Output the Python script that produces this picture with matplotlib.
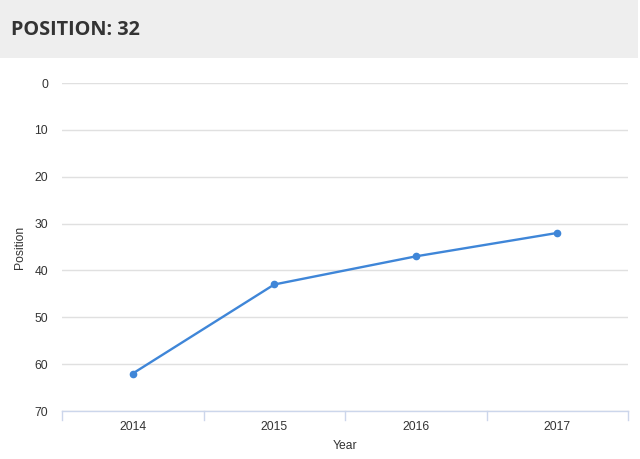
import matplotlib
matplotlib.use("Agg")
import matplotlib.pyplot as plt
from matplotlib.patches import Rectangle

years = ["2014", "2015", "2016", "2017"]
positions = [62, 43, 37, 32]
y_ticks = [0, 10, 20, 30, 40, 50, 60, 70]
title = "POSITION: 32"

W, H = 640, 459
fig = plt.figure(figsize=(W / 100, H / 100), dpi=100)
fig.patch.set_facecolor("white")
plt.rcParams["font.family"] = ["Liberation Sans", "DejaVu Sans"]

# header bar
fig.patches.append(Rectangle((0, 1 - 58 / H), 638 / W, 58 / H, transform=fig.transFigure,
                             facecolor="#eeeeee", edgecolor="none", zorder=0))
fig.text(11 / W, 1 - 30 / H, title, fontsize=14.3, fontweight="bold", family="Open Sans",
         color="#333333", va="center", ha="left")

left, right, top, bottom = 62, 628, 83, 411
ax = fig.add_axes([left / W, 1 - bottom / H, (right - left) / W, (bottom - top) / H])
x = list(range(len(years)))
ax.plot(x, positions, color="#3f86d8", lw=1.7, marker="o", ms=4.5, zorder=3, clip_on=False)
ax.set_xlim(-0.5, len(years) - 0.5)
ax.set_ylim(70, 0)
ax.set_yticks(y_ticks)
ax.set_yticklabels([str(v) for v in y_ticks])
ax.set_xticks(x)
ax.set_xticklabels(years)
for s in ["top", "right", "left"]:
    ax.spines[s].set_visible(False)
ax.spines["bottom"].set_color("#ccd6eb")
ax.spines["bottom"].set_linewidth(1)
ax.grid(axis="y", color="#e0e0e0", lw=1)
ax.tick_params(axis="y", length=0, pad=10, labelsize=8.7, labelcolor="#333333")
ax.tick_params(axis="x", length=0, pad=7, labelsize=8.7, labelcolor="#333333")
# category boundary ticks
for b in [i - 0.5 for i in range(len(years) + 1)]:
    ax.plot([b, b], [70, 71.9], color="#ccd6eb", lw=1, clip_on=False)
ax.set_axisbelow(True)
ax.set_xlabel("Year", fontsize=8.7, color="#333333", labelpad=5)
ax.set_ylabel("Position", fontsize=8.7, color="#333333", labelpad=6)

fig.savefig("out.png", dpi=100)
